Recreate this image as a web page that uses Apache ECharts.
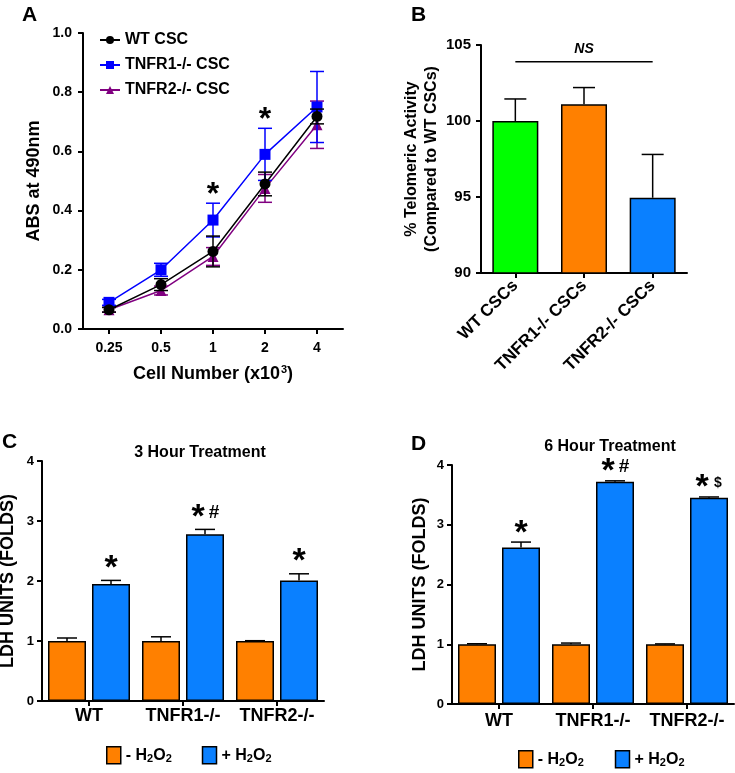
<!DOCTYPE html>
<html><head><meta charset="utf-8">
<script src="https://cdn.jsdelivr.net/npm/echarts@6/dist/echarts.min.js"></script>
<style>html,body{margin:0;padding:0;background:#fff}#c{width:735px;height:773px}</style>
</head><body><div id="c"></div>
<script>
// ---------- Panel A data ----------
const cellNumbers = ['0.25', '0.5', '1', '2', '4'];
const wtMean    = [0.065, 0.15, 0.262, 0.49, 0.718];
const wtErr     = [0.008, 0.02, 0.052, 0.04, 0.025];
const tnfr1Mean = [0.09, 0.2, 0.368, 0.59, 0.75];
const tnfr1Err  = [0.01, 0.022, 0.057, 0.088, 0.12];
const tnfr2Mean = [0.065, 0.13, 0.245, 0.475, 0.69];
const tnfr2Err  = [0.008, 0.015, 0.03, 0.047, 0.08];
const sigA      = ['', '', '*', '*', ''];

// ---------- Panel B data ----------
const telCats = ['WT CSCs', 'TNFR1-/- CSCs', 'TNFR2-/- CSCs'];
const telMean = [100, 101.1, 94.95];
const telErr  = [1.45, 1.1, 2.85];
const nsLevel = 103.9;

// ---------- Panel C data ----------
const ldhCats    = ['WT', 'TNFR1-/-', 'TNFR2-/-'];
const c3Minus    = [1, 1, 1];
const c3MinusErr = [0.05, 0.07, 0.005];
const c3Plus     = [1.95, 2.78, 2.01];
const c3PlusErr  = [0.06, 0.08, 0.11];
const c3Sig      = ['*', '*#', '*'];

// ---------- Panel D data ----------
const d6Minus    = [1, 1, 1];
const d6MinusErr = [0.008, 0.02, 0.006];
const d6Plus     = [2.62, 3.72, 3.45];
const d6PlusErr  = [0.09, 0.015, 0.015];
const d6Sig      = ['*', '*#', '*$'];

const FONT = '"Liberation Sans", Arial, sans-serif';
const ORANGE = '#FF8000', BLUE = '#0A80FF', GREEN = '#00FF00';
const BAR_W = 38, BAR_GAP = 6, OFF = (BAR_W + BAR_GAP) / 2;

const tri = (m, e) => m.map((v, i) => [i, v, e[i]]);

function errRender(color, dx, cap, twoSided, lw) {
  return function (params, api) {
    const x = api.value(0), v = api.value(1), e = api.value(2);
    const t = api.coord([x, v + e]);
    const b = api.coord([x, twoSided ? v - e : v]);
    const cx = t[0] + dx;
    const st = { stroke: color, lineWidth: lw };
    const ch = [
      { type: 'line', shape: { x1: cx, y1: t[1], x2: cx, y2: b[1] }, style: st },
      { type: 'line', shape: { x1: cx - cap, y1: t[1], x2: cx + cap, y2: t[1] }, style: st }
    ];
    if (twoSided) ch.push({ type: 'line', shape: { x1: cx - cap, y1: b[1], x2: cx + cap, y2: b[1] }, style: st });
    return { type: 'group', children: ch };
  };
}

function sigRender(labels, dx, above, starSize, otherSizes) {
  return function (params, api) {
    const txt = labels[params.dataIndex];
    if (!txt) return { type: 'group', children: [] };
    const p = api.coord([api.value(0), api.value(1) + api.value(2)]);
    const cx = p[0] + dx, cy = p[1] - above;
    const ch = [];
    const star = (x) => ({ type: 'text', x: x, y: cy + starSize * 0.15,
      style: { text: '*', align: 'center', verticalAlign: 'middle', fill: '#000',
        font: 'bold ' + starSize + 'px ' + FONT } });
    if (txt.length === 1) ch.push(star(cx));
    else {
      ch.push(star(cx - 7));
      const s = otherSizes[txt[1]] || 18;
      ch.push({ type: 'text', x: cx + 9, y: cy,
        style: { text: txt[1], align: 'center', verticalAlign: 'middle', fill: '#000',
          font: 'bold ' + s + 'px ' + FONT } });
    }
    return { type: 'group', children: ch };
  };
}

function nsRender(params, api) {
  const a = api.coord([0, nsLevel]);
  const b = api.coord([2, nsLevel]);
  return { type: 'group', children: [
    { type: 'line', shape: { x1: a[0], y1: a[1], x2: b[0], y2: b[1] }, style: { stroke: '#000', lineWidth: 1.5 } },
    { type: 'text', x: (a[0] + b[0]) / 2, y: a[1] - 13,
      style: { text: 'NS', align: 'center', verticalAlign: 'middle', fill: '#000',
        font: 'italic bold 14px ' + FONT } }
  ]};
}

const axLine = { show: true, lineStyle: { color: '#000', width: 2 } };
const axTick = () => ({ show: true, length: 5, inside: false, alignWithLabel: true, lineStyle: { color: '#000', width: 2 } });
const lbl = (size, margin) => ({ color: '#000', fontWeight: 'bold', fontSize: size, fontFamily: FONT, margin: margin, interval: 0 });

const chart = echarts.init(document.getElementById('c'), null, { renderer: 'canvas' });

const option = {
  backgroundColor: '#fff',
  animation: false,
  textStyle: { fontFamily: FONT },
  grid: [
    { left: 83, top: 33, width: 260, height: 296, outerBoundsMode: 'none' },
    { left: 481, top: 45, width: 206, height: 228, outerBoundsMode: 'none' },
    { left: 42, top: 461, width: 282, height: 240, outerBoundsMode: 'none' },
    { left: 452, top: 465, width: 282, height: 239, outerBoundsMode: 'none' }
  ],
  xAxis: [
    { gridIndex: 0, type: 'category', data: cellNumbers, boundaryGap: true,
      axisLine: axLine, axisTick: axTick(), axisLabel: lbl(14, 12), splitLine: { show: false },
      name: 'Cell Number (x10{sup|3})', nameLocation: 'middle', nameGap: 35,
      nameTextStyle: { color: '#000', fontWeight: 'bold', fontSize: 18, fontFamily: FONT,
        rich: { sup: { fontSize: 11, fontWeight: 'bold', fontFamily: FONT, padding: [0, 0, 9, 1] } } } },
    { gridIndex: 1, type: 'category', data: telCats,
      axisLine: axLine, axisTick: axTick(), axisLabel: Object.assign(lbl(17, 10), { rotate: 45 }), splitLine: { show: false } },
    { gridIndex: 2, type: 'category', data: ldhCats,
      axisLine: axLine, axisTick: axTick(), axisLabel: lbl(18, 6), splitLine: { show: false } },
    { gridIndex: 3, type: 'category', data: ldhCats,
      axisLine: axLine, axisTick: axTick(), axisLabel: lbl(18, 8), splitLine: { show: false } }
  ],
  yAxis: [
    { gridIndex: 0, type: 'value', min: 0, max: 1, interval: 0.2,
      axisLine: axLine, axisTick: axTick(), splitLine: { show: false },
      axisLabel: Object.assign(lbl(14, 11), { formatter: v => v.toFixed(1) }),
      name: 'ABS at 490nm', nameLocation: 'middle', nameGap: 40,
      nameTextStyle: { color: '#000', fontWeight: 'bold', fontSize: 18, fontFamily: FONT } },
    { gridIndex: 1, type: 'value', min: 90, max: 105, interval: 5,
      axisLine: axLine, axisTick: axTick(), splitLine: { show: false },
      axisLabel: lbl(15, 10),
      name: '% Telomeric Activity\n(Compared to WT CSCs)', nameLocation: 'middle', nameGap: 30,
      nameTextStyle: { color: '#000', fontWeight: 'bold', fontSize: 16, lineHeight: 20, fontFamily: FONT } },
    { gridIndex: 2, type: 'value', min: 0, max: 4, interval: 1,
      axisLine: axLine, axisTick: axTick(), splitLine: { show: false },
      axisLabel: lbl(13, 8),
      name: 'LDH UNITS (FOLDS)', nameLocation: 'middle', nameGap: 25,
      nameTextStyle: { color: '#000', fontWeight: 'bold', fontSize: 18, fontFamily: FONT } },
    { gridIndex: 3, type: 'value', min: 0, max: 4, interval: 1,
      axisLine: axLine, axisTick: axTick(), splitLine: { show: false },
      axisLabel: lbl(13, 8),
      name: 'LDH UNITS (FOLDS)', nameLocation: 'middle', nameGap: 23,
      nameTextStyle: { color: '#000', fontWeight: 'bold', fontSize: 18, fontFamily: FONT } }
  ],
  legend: [
    { data: ['WT CSC', 'TNFR1-/- CSC', 'TNFR2-/- CSC'], orient: 'vertical', left: 99, top: 32, padding: 0,
      itemWidth: 20, itemHeight: 10, itemGap: 9, selectedMode: false,
      textStyle: { color: '#000', fontWeight: 'bold', fontSize: 16, fontFamily: FONT } },
    { data: ['C-', 'C+'], left: 106, top: 746, padding: 0, itemWidth: 14, itemHeight: 17, itemGap: 30, selectedMode: false,
      icon: 'rect', itemStyle: { borderColor: '#000', borderWidth: 1.5 },
      formatter: n => (n === 'C-' ? '- H{s|2}O{s|2}' : '+ H{s|2}O{s|2}'),
      textStyle: { color: '#000', fontWeight: 'bold', fontSize: 16, fontFamily: FONT,
        rich: { s: { fontSize: 11, fontWeight: 'bold', fontFamily: FONT, padding: [8, 0, 0, 0] } } } },
    { data: ['D-', 'D+'], left: 518, top: 750, padding: 0, itemWidth: 14, itemHeight: 17, itemGap: 31, selectedMode: false,
      icon: 'rect', itemStyle: { borderColor: '#000', borderWidth: 1.5 },
      formatter: n => (n === 'D-' ? '- H{s|2}O{s|2}' : '+ H{s|2}O{s|2}'),
      textStyle: { color: '#000', fontWeight: 'bold', fontSize: 16, fontFamily: FONT,
        rich: { s: { fontSize: 11, fontWeight: 'bold', fontFamily: FONT, padding: [8, 0, 0, 0] } } } }
  ],
  graphic: [
    { type: 'text', left: 22, top: 5, style: { text: 'A', fill: '#000', font: 'bold 21px ' + FONT } },
    { type: 'text', left: 411, top: 5, style: { text: 'B', fill: '#000', font: 'bold 21px ' + FONT } },
    { type: 'text', left: 2, top: 432, style: { text: 'C', fill: '#000', font: 'bold 21px ' + FONT } },
    { type: 'text', left: 411, top: 434, style: { text: 'D', fill: '#000', font: 'bold 21px ' + FONT } },
    { type: 'text', x: 200, y: 453, style: { text: '3 Hour Treatment', align: 'center', verticalAlign: 'middle', fill: '#000', font: 'bold 16px ' + FONT } },
    { type: 'text', x: 610, y: 447, style: { text: '6 Hour Treatment', align: 'center', verticalAlign: 'middle', fill: '#000', font: 'bold 16px ' + FONT } }
  ],
  series: [
    // ---- A ----
    { type: 'custom', xAxisIndex: 0, yAxisIndex: 0, renderItem: errRender('#800080', 0, 7, true, 1.5), data: tri(tnfr2Mean, tnfr2Err), z: 2 },
    { name: 'TNFR2-/- CSC', type: 'line', xAxisIndex: 0, yAxisIndex: 0, data: tnfr2Mean, color: '#800080',
      symbol: 'triangle', symbolSize: 11, lineStyle: { width: 1.5 }, z: 3 },
    { type: 'custom', xAxisIndex: 0, yAxisIndex: 0, renderItem: errRender('#0000FF', 0, 7, true, 1.5), data: tri(tnfr1Mean, tnfr1Err), z: 4 },
    { name: 'TNFR1-/- CSC', type: 'line', xAxisIndex: 0, yAxisIndex: 0, data: tnfr1Mean, color: '#0000FF',
      symbol: 'rect', symbolSize: 11, lineStyle: { width: 1.5 }, z: 5 },
    { type: 'custom', xAxisIndex: 0, yAxisIndex: 0, renderItem: errRender('#000000', 0, 7, true, 1.5), data: tri(wtMean, wtErr), z: 6 },
    { name: 'WT CSC', type: 'line', xAxisIndex: 0, yAxisIndex: 0, data: wtMean, color: '#000000',
      symbol: 'circle', symbolSize: 11, lineStyle: { width: 1.5 }, z: 7 },
    { type: 'custom', xAxisIndex: 0, yAxisIndex: 0, renderItem: sigRender(sigA, 0, 13, 32, {}), data: tri(tnfr1Mean, tnfr1Err), z: 8 },
    // ---- B ----
    { type: 'bar', xAxisIndex: 1, yAxisIndex: 1, barWidth: 46,
      data: telMean.map((v, i) => ({ value: v, itemStyle: { color: [GREEN, ORANGE, BLUE][i] } })),
      itemStyle: { borderColor: '#000', borderWidth: 1.5 }, z: 2 },
    { type: 'custom', xAxisIndex: 1, yAxisIndex: 1, renderItem: errRender('#000', 0, 11, false, 1.5), data: tri(telMean, telErr), z: 3 },
    { type: 'custom', xAxisIndex: 1, yAxisIndex: 1, renderItem: nsRender, data: [[0, nsLevel]], z: 3 },
    // ---- C ----
    { name: 'C-', type: 'bar', xAxisIndex: 2, yAxisIndex: 2, data: c3Minus, barWidth: BAR_W, barGap: (BAR_GAP / BAR_W * 100) + '%',
      itemStyle: { color: ORANGE, borderColor: '#000', borderWidth: 1.5 }, z: 2 },
    { name: 'C+', type: 'bar', xAxisIndex: 2, yAxisIndex: 2, data: c3Plus, barWidth: BAR_W, barGap: (BAR_GAP / BAR_W * 100) + '%',
      itemStyle: { color: BLUE, borderColor: '#000', borderWidth: 1.5 }, z: 2 },
    { type: 'custom', xAxisIndex: 2, yAxisIndex: 2, renderItem: errRender('#000', -OFF, 10, false, 1.5), data: tri(c3Minus, c3MinusErr), z: 3 },
    { type: 'custom', xAxisIndex: 2, yAxisIndex: 2, renderItem: errRender('#000', OFF, 10, false, 1.5), data: tri(c3Plus, c3PlusErr), z: 3 },
    { type: 'custom', xAxisIndex: 2, yAxisIndex: 2, renderItem: sigRender(c3Sig, OFF, 17, 34, { '#': 19, '$': 14 }), data: tri(c3Plus, c3PlusErr), z: 3 },
    // ---- D ----
    { name: 'D-', type: 'bar', xAxisIndex: 3, yAxisIndex: 3, data: d6Minus, barWidth: BAR_W, barGap: (BAR_GAP / BAR_W * 100) + '%',
      itemStyle: { color: ORANGE, borderColor: '#000', borderWidth: 1.5 }, z: 2 },
    { name: 'D+', type: 'bar', xAxisIndex: 3, yAxisIndex: 3, data: d6Plus, barWidth: BAR_W, barGap: (BAR_GAP / BAR_W * 100) + '%',
      itemStyle: { color: BLUE, borderColor: '#000', borderWidth: 1.5 }, z: 2 },
    { type: 'custom', xAxisIndex: 3, yAxisIndex: 3, renderItem: errRender('#000', -OFF, 10, false, 1.5), data: tri(d6Minus, d6MinusErr), z: 3 },
    { type: 'custom', xAxisIndex: 3, yAxisIndex: 3, renderItem: errRender('#000', OFF, 10, false, 1.5), data: tri(d6Plus, d6PlusErr), z: 3 },
    { type: 'custom', xAxisIndex: 3, yAxisIndex: 3, renderItem: sigRender(d6Sig, OFF, 14, 34, { '#': 19, '$': 14 }), data: tri(d6Plus, d6PlusErr), z: 3 }
  ]
};
chart.setOption(option);
</script>
</body></html>
